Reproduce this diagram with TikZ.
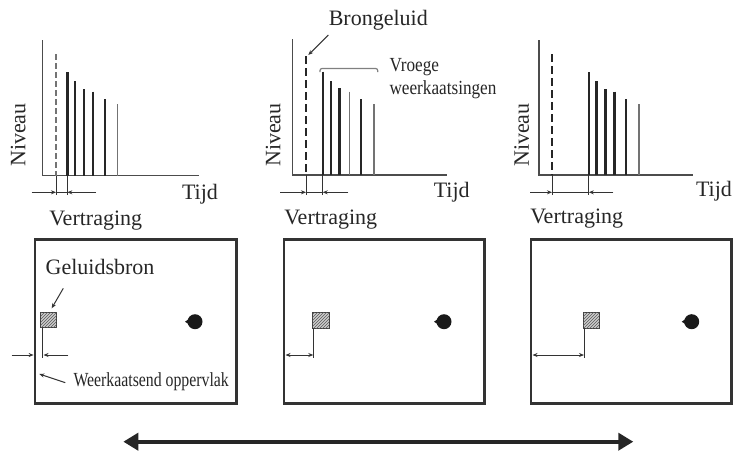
\documentclass[tikz,border=0pt]{standalone}
\usepackage{fontspec}
\setmainfont{Liberation Serif}
\usetikzlibrary{arrows.meta,patterns}
\begin{document}
\begin{tikzpicture}[x=1pt,y=-1pt,
  txt/.style={inner sep=0pt, font=\fontsize{22}{26}\selectfont, text=black!85},
  smalltxt/.style={inner sep=0pt, font=\fontsize{20}{24}\selectfont, text=black!85},
  axisline/.style={line width=1.3pt, draw=black!70},
  bar/.style={line width=2.4pt, draw=black!85},
  lastbar/.style={line width=1.4pt, draw=black!55},
  thindash/.style={line width=1.2pt, draw=black!55, dash pattern=on 6pt off 3pt},
  thickdash/.style={line width=2.8pt, draw=black!85, dash pattern=on 8pt off 4pt},
  tickline/.style={line width=1pt, draw=black!80},
  sarrow/.style={line width=1pt, draw=black!80, -{Stealth[length=5pt,width=4pt]}},
  darrow/.style={line width=1pt, draw=black!80, {Stealth[length=5pt,width=4pt]}-{Stealth[length=5pt,width=4pt]}},
  wall/.style={line width=2.5pt, draw=black!80},
  srcbox/.style={draw=black!75, line width=1.2pt, fill=black!20,
    postaction={pattern=north east lines, pattern color=black!65}},
  bigarrow/.style={line width=4pt, draw=black!85,
    {Triangle[length=15pt,width=17pt]}-{Triangle[length=15pt,width=17pt]}},
  bracket/.style={line width=1.2pt, draw=black!50, rounded corners=2pt}
]
\useasboundingbox (0,0) rectangle (740,453);

% ---------------- Panel 1 graph ----------------
\draw[axisline] (42.7,40) -- (42.7,175.7) -- (199,175.7);
\draw[thindash] (56,54.3) -- (56,175.7);
\foreach \x/\t in {67.3/72.3, 75/81, 83.7/89, 93/91.7, 105/99.3}
  \draw[bar] (\x,\t) -- (\x,175.7);
\draw[lastbar] (117.3,104.3) -- (117.3,175.7);
\draw[tickline] (56,175.7) -- (56,195);
\draw[tickline] (67.3,175.7) -- (67.3,195);
\coordinate (a1l) at (31.7,192.3);
\coordinate (a1s) at (56,192.3);
\coordinate (a1e) at (67.3,192.3);
\coordinate (a1r) at (96,192.3);
\draw[tickline] (a1s) -- (a1e);
\draw[sarrow] (a1l) -- (a1s);
\draw[sarrow] (a1r) -- (a1e);
\node[txt] (tijd1) at (200,194) {Tijd};
\node[txt] (vert1) at (95.7,220.5) {Vertraging};
\node[txt, rotate=90] (niv1) at (18.3,135) {Niveau};

% ---------------- Panel 2 graph ----------------
\draw[axisline] (292.3,39.3) -- (292.3,175) -- (446.7,175);
\draw[thickdash] (306,56) -- (306,175);
\foreach \x/\t in {322.7/71.7, 330.7/81, 339.3/88.3, 361/99}
  \draw[bar] (\x,\t) -- (\x,175);
\draw[lastbar] (349.3,91.7) -- (349.3,175);
\draw[lastbar] (374,104.3) -- (374,175);
\draw[tickline] (306,175) -- (306,195);
\draw[tickline] (322.7,175) -- (322.7,195);
\coordinate (a2l) at (280,192.3);
\coordinate (a2s) at (306,192.3);
\coordinate (a2e) at (322.7,192.3);
\coordinate (a2r) at (348.3,192.3);
\draw[tickline] (a2s) -- (a2e);
\draw[sarrow] (a2l) -- (a2s);
\draw[sarrow] (a2r) -- (a2e);
\node[txt] (tijd2) at (451.7,192) {Tijd};
\node[txt] (vert2) at (330.7,220) {Vertraging};
\node[txt, rotate=90] (niv2) at (273.3,135) {Niveau};
\node[txt] (brong) at (378.3,20.7) {Brongeluid};
\coordinate (brongtip) at (308.3,55);
\draw[sarrow] (328.3,35) -- (brongtip);
\draw[bracket] (320,72) -- (320,68.5) -- (377.7,68.5) -- (377.7,72);
\node[smalltxt, anchor=west] (vroege) at (389.3,67) {\scalebox{0.86}[1]{Vroege}};
\node[smalltxt, anchor=west] (weerk) at (389.3,90) {\scalebox{0.86}[1]{weerkaatsingen}};

% ---------------- Panel 3 graph ----------------
\draw[axisline] (539,40) -- (539,175) -- (693.3,175);
\draw[thickdash] (552,54.3) -- (552,175);
\foreach \x/\t in {588.8/72.3, 596.5/81, 605.3/89, 614.5/91.7, 626/99.3}
  \draw[bar] (\x,\t) -- (\x,175);
\draw[lastbar] (639,104.3) -- (639,175);
\draw[tickline] (552,175) -- (552,195);
\draw[tickline] (588.8,175) -- (588.8,195);
\coordinate (a3l) at (530,192.3);
\coordinate (a3s) at (552,192.3);
\coordinate (a3e) at (588.8,192.3);
\coordinate (a3r) at (613.3,192.3);
\draw[tickline] (a3s) -- (a3e);
\draw[sarrow] (a3l) -- (a3s);
\draw[sarrow] (a3r) -- (a3e);
\node[txt] (tijd3) at (714,191) {Tijd};
\node[txt] (vert3) at (576.7,219) {Vertraging};
\node[txt, rotate=90] (niv3) at (521.7,135) {Niveau};

% ---------------- Room 1 ----------------
\draw[wall] (35,239.3) rectangle (236.7,403.3);
\node[txt] (gel) at (100,266.7) {Geluidsbron};
\draw[srcbox] (40.7,312.3) rectangle (56.7,327.7);
\coordinate (src1) at (51.7,308.3);
\draw[sarrow] (63.3,288.3) -- (src1);
\draw[tickline] (42.7,327.7) -- (42.7,358.3);
\draw[sarrow] (11.7,355) -- (33.6,355);
\draw[sarrow] (68.3,355) -- (43.5,355);
\node[smalltxt, anchor=west] (opp) at (73.3,381.7) {\scalebox{0.79}[1]{Weerkaatsend oppervlak}};
\coordinate (wallpt) at (39.3,374);
\draw[sarrow] (opp.west) ++(-8,1) -- (wallpt);
\fill[black!90] (195,321.7) circle (7.5);
\fill[black!90] (185,321.7) -- (192,317) -- (192,326.4) -- cycle;

% ---------------- Room 2 ----------------
\draw[wall] (284,239.3) rectangle (484.3,403.3);
\draw[srcbox] (312.7,312.3) rectangle (329.3,328.3);
\draw[tickline] (313.3,328.3) -- (313.3,357.7);
\draw[darrow] (285.5,355) -- (313.3,355);
\fill[black!90] (444,321.7) circle (7.5);
\fill[black!90] (434,321.7) -- (441,317) -- (441,326.4) -- cycle;

% ---------------- Room 3 ----------------
\draw[wall] (531,239.3) rectangle (731.7,403.3);
\draw[srcbox] (583.3,312.3) rectangle (599.3,328.3);
\draw[tickline] (584,328.3) -- (584,357.7);
\draw[darrow] (532.5,355) -- (584,355);
\fill[black!90] (691.7,321.7) circle (7.5);
\fill[black!90] (681.7,321.7) -- (688.7,317) -- (688.7,326.4) -- cycle;

% ---------------- Bottom arrow ----------------
\coordinate (bl) at (123.3,441.7);
\coordinate (br) at (633.3,441.7);
\draw[bigarrow] (bl) -- (br);
\end{tikzpicture}
\end{document}
